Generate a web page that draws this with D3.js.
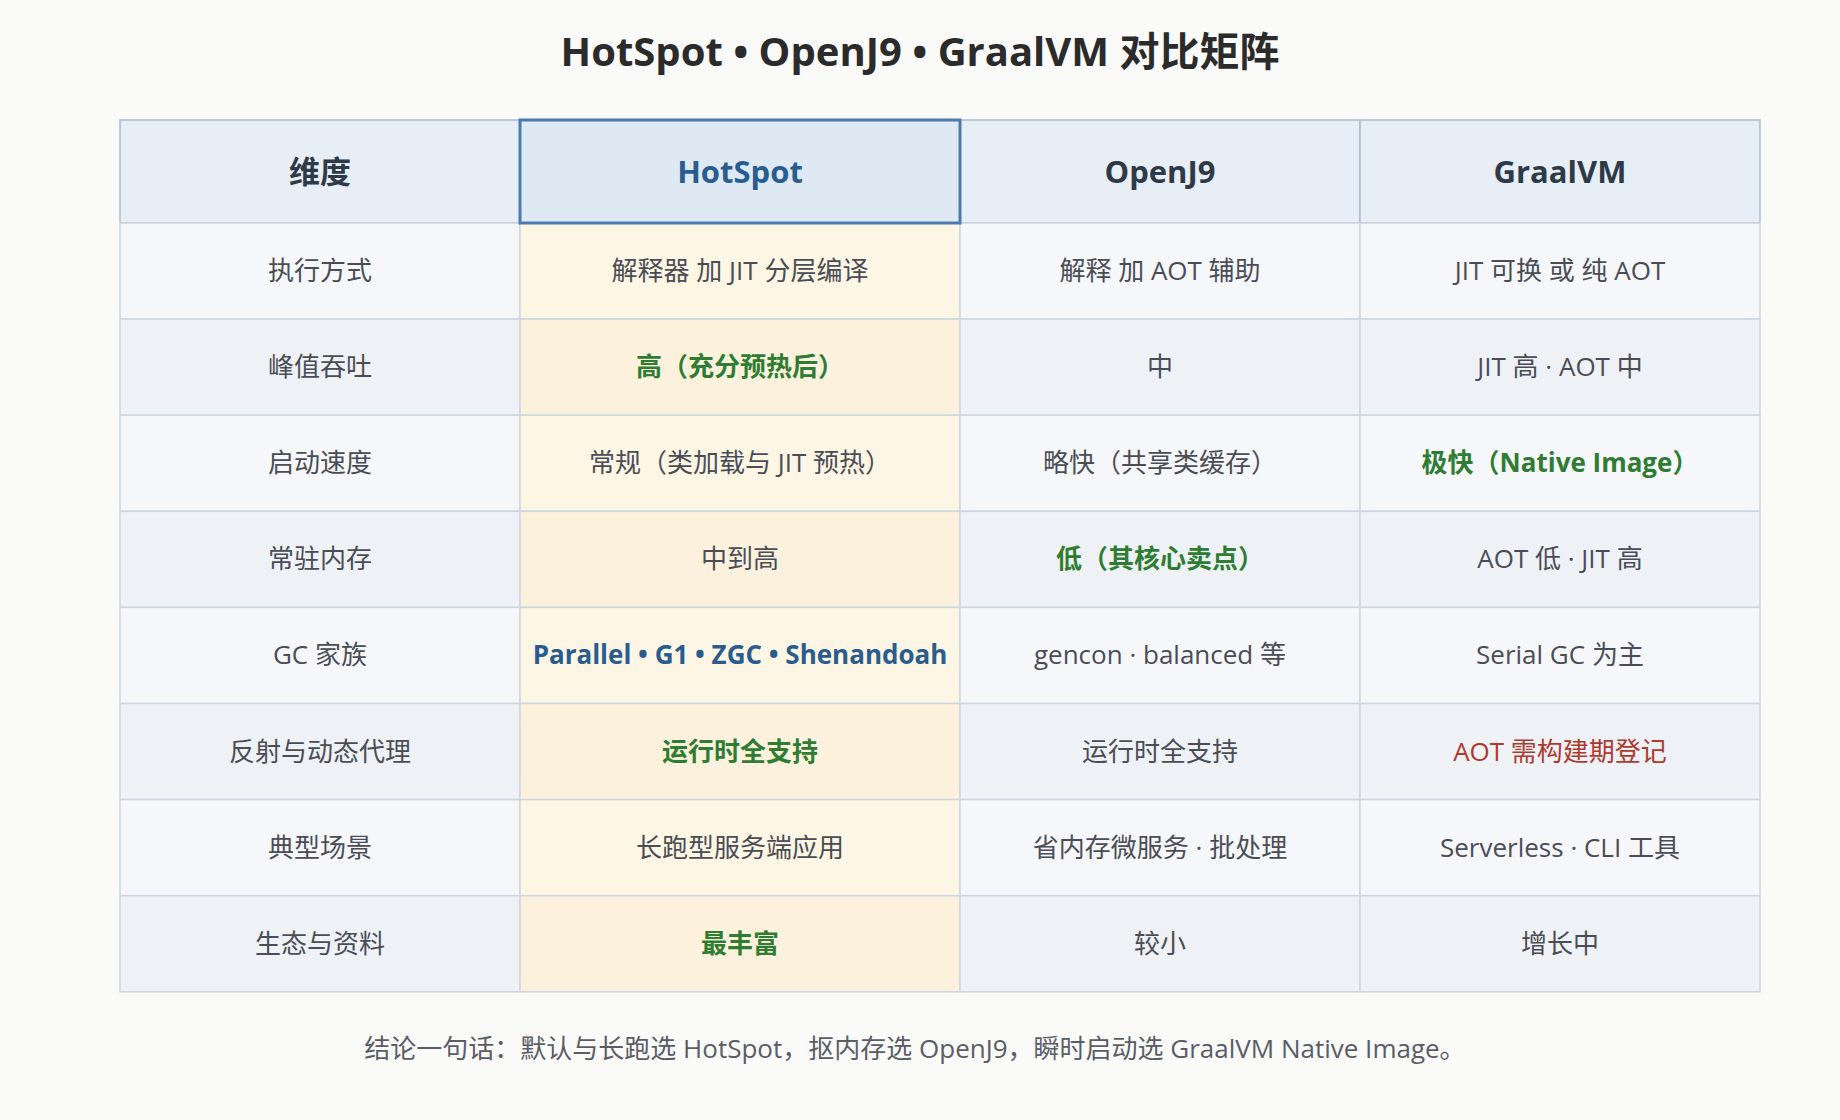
<!DOCTYPE html>
<html lang="zh">
<head>
<meta charset="UTF-8">
<title>JVM 对比矩阵</title>
<script src="https://d3js.org/d3.v7.min.js"></script>
<style>
  body { margin: 0; background: #fafaf9; }
  text { font-family: "Open Sans", "Noto Sans CJK SC", sans-serif; }
</style>
</head>
<body>
<svg width="1840" height="1120"></svg>
<script>
// column headers
const columns = ["维度", "HotSpot", "OpenJ9", "GraalVM"];
const dimensions = ["执行方式", "峰值吞吐", "启动速度", "常驻内存", "GC 家族", "反射与动态代理", "典型场景", "生态与资料"];
const hotspot = ["解释器 加 JIT 分层编译", "高（充分预热后）", "常规（类加载与 JIT 预热）", "中到高", "Parallel • G1 • ZGC • Shenandoah", "运行时全支持", "长跑型服务端应用", "最丰富"];
const openj9 = ["解释 加 AOT 辅助", "中", "略快（共享类缓存）", "低（其核心卖点）", "gencon · balanced 等", "运行时全支持", "省内存微服务 · 批处理", "较小"];
const graalvm = ["JIT 可换 或 纯 AOT", "JIT 高 · AOT 中", "极快（Native Image）", "AOT 低 · JIT 高", "Serial GC 为主", "AOT 需构建期登记", "Serverless · CLI 工具", "增长中"];
// emphasis per cell: "", "good", "key", "warn"
const hotspotTone = ["", "good", "", "", "key", "good", "", "good"];
const openj9Tone = ["", "", "", "good", "", "", "", ""];
const graalvmTone = ["", "", "good", "", "", "warn", "", ""];

const svg = d3.select("svg");
const colEdges = [120, 520, 960, 1360, 1760];
const tableTop = 120, headH = 103, rowH = 96.1;

const y = d3.scaleBand().domain(d3.range(dimensions.length))
  .range([tableTop + headH, tableTop + headH + rowH * dimensions.length]);

svg.append("text").attr("x", 920).attr("y", 66).attr("text-anchor", "middle")
  .attr("font-size", 40).attr("font-weight", 700).attr("fill", "#2b2b2b")
  .text("HotSpot • OpenJ9 • GraalVM 对比矩阵");

// header
columns.forEach((c, i) => {
  const x0 = colEdges[i], w = colEdges[i + 1] - x0;
  svg.append("rect").attr("x", x0).attr("y", tableTop).attr("width", w).attr("height", headH)
    .attr("fill", i === 1 ? "#dfe9f3" : "#e8eef5").attr("stroke", "#a9bdd3").attr("stroke-width", 1.5);
  svg.append("text").attr("x", x0 + w / 2).attr("y", tableTop + headH / 2 + 11)
    .attr("text-anchor", "middle").attr("font-size", 31).attr("font-weight", 700)
    .attr("fill", i === 1 ? "#2a5d8f" : "#2e3a48").text(c);
});

const toneColor = { "": "#4a4d55", good: "#2e7d32", key: "#2a5d8f", warn: "#b0392e" };
const cols = [
  { vals: dimensions, tones: dimensions.map(() => "") },
  { vals: hotspot, tones: hotspotTone },
  { vals: openj9, tones: openj9Tone },
  { vals: graalvm, tones: graalvmTone }
];

dimensions.forEach((d, r) => {
  cols.forEach((col, i) => {
    const x0 = colEdges[i], w = colEdges[i + 1] - x0;
    const even = r % 2 === 0;
    const fill = i === 1 ? (even ? "#fdf6e4" : "#fcf1dd") : (even ? "#f5f7fa" : "#eef2f6");
    svg.append("rect").attr("x", x0).attr("y", y(r)).attr("width", w).attr("height", y.bandwidth())
      .attr("fill", fill).attr("stroke", "#cdd6e0").attr("stroke-width", 1.5);
    const tone = col.tones[r];
    svg.append("text").attr("x", x0 + w / 2).attr("y", y(r) + y.bandwidth() / 2 + 9)
      .attr("text-anchor", "middle").attr("font-size", 26)
      .attr("font-weight", tone === "good" || tone === "key" ? 700 : 400)
      .attr("fill", toneColor[tone]).text(col.vals[r]);
  });
});

// highlighted HotSpot header border
svg.append("rect").attr("x", colEdges[1]).attr("y", tableTop).attr("width", colEdges[2] - colEdges[1])
  .attr("height", headH).attr("fill", "none").attr("stroke", "#4a7ab0").attr("stroke-width", 3);

svg.append("text").attr("x", 915).attr("y", 1058).attr("text-anchor", "middle")
  .attr("font-size", 26).attr("fill", "#5a5d66")
  .text("结论一句话：默认与长跑选 HotSpot，抠内存选 OpenJ9，瞬时启动选 GraalVM Native Image。");
</script>
</body>
</html>
